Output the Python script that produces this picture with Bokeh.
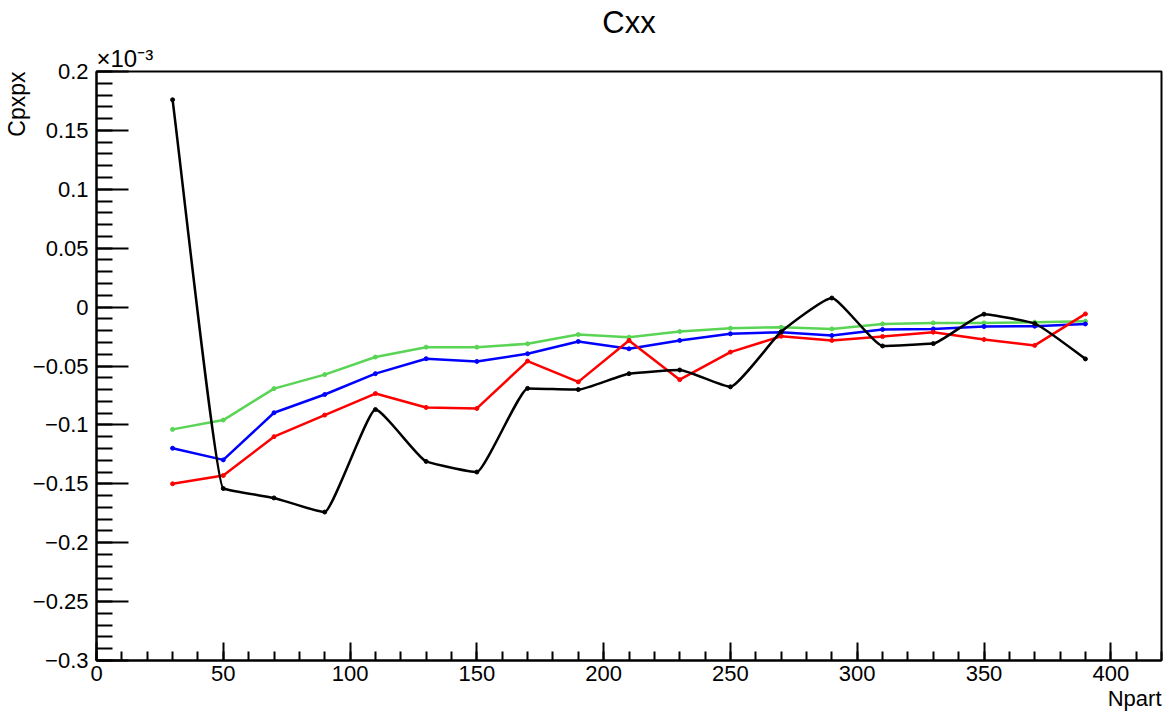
import numpy as np
from bokeh.plotting import figure
from bokeh.models import (Range1d, FixedTicker, CustomJSTickFormatter, Title, ColumnDataSource)
from bokeh.embed import file_html
from bokeh.resources import INLINE

# ---- data (values in units of 1e-3) ----
npart = [30, 50, 70, 90, 110, 130, 150, 170, 190, 210, 230, 250, 270, 290, 310, 330, 350, 370, 390]
black_vals = [0.176, -0.154, -0.162, -0.174, -0.087, -0.131, -0.140, -0.069, -0.070, -0.0565,
              -0.0534, -0.0677, -0.021, 0.0077, -0.033, -0.031, -0.006, -0.014, -0.044]
red_vals = [-0.150, -0.143, -0.110, -0.0917, -0.0734, -0.0852, -0.086, -0.0458, -0.0635, -0.0283,
            -0.0616, -0.0382, -0.0247, -0.0283, -0.0250, -0.0213, -0.0275, -0.0325, -0.0058]
blue_vals = [-0.1198, -0.1297, -0.0897, -0.0742, -0.0565, -0.0438, -0.0461, -0.0396, -0.0292, -0.0354,
             -0.0283, -0.0227, -0.0213, -0.0241, -0.0190, -0.0185, -0.0165, -0.0162, -0.0143]
green_vals = [-0.1038, -0.0959, -0.0692, -0.0573, -0.0424, -0.0340, -0.0340, -0.0312, -0.0233, -0.0255,
              -0.0207, -0.0179, -0.0171, -0.0185, -0.0143, -0.0134, -0.0134, -0.0128, -0.0120]

x_major = [0, 50, 100, 150, 200, 250, 300, 350, 400]
x_minor = list(range(0, 421, 10))
y_major = [-0.3, -0.25, -0.2, -0.15, -0.1, -0.05, 0.0, 0.05, 0.1, 0.15, 0.2]
y_minor = [round(-0.3 + 0.01 * i, 2) for i in range(51)]

FONT = "Liberation Sans"

p = figure(width=1167, height=717, output_backend="svg", toolbar_location=None,
           x_range=Range1d(0, 420), y_range=Range1d(-0.3, 0.2), title=None,
           min_border_left=96, min_border_right=6, min_border_top=67, min_border_bottom=57)
p.background_fill_color = "white"
p.border_fill_color = "white"
p.outline_line_color = "black"
p.outline_line_width = 2
p.xgrid.visible = False
p.ygrid.visible = False

fmt = CustomJSTickFormatter(code="""
const v = Math.round(tick*1000)/1000;
return v < 0 ? '\\u2212' + String(-v) : String(v);
""")

for ax, maj, mnr, tin, minin in ((p.xaxis[0], x_major, x_minor, 18, 9),
                                 (p.yaxis[0], y_major, y_minor, 32, 16)):
    ax.ticker = FixedTicker(ticks=maj, minor_ticks=mnr)
    ax.formatter = fmt
    ax.major_tick_in = tin
    ax.major_tick_out = 0
    ax.minor_tick_in = minin
    ax.minor_tick_out = 0
    ax.axis_line_width = 2
    ax.major_tick_line_width = 2
    ax.minor_tick_line_width = 2
    ax.major_label_text_font = FONT
    ax.major_label_text_font_size = "22px"
    ax.major_label_text_color = "black"
p.xaxis.major_label_standoff = 5
p.yaxis.major_label_standoff = 8


def smooth_bezier(xs, ys, k=0.45):
    """Monotone cubic (Fritsch-Carlson) segments with shortened handles."""
    xs = np.asarray(xs, float)
    ys = np.asarray(ys, float)
    h = np.diff(xs)
    d = np.diff(ys) / h
    m = np.zeros_like(ys)
    m[0] = d[0]
    m[-1] = d[-1]
    for i in range(1, len(xs) - 1):
        if d[i - 1] * d[i] <= 0:
            m[i] = 0.0
        else:
            w1 = 2 * h[i] + h[i - 1]
            w2 = h[i] + 2 * h[i - 1]
            m[i] = (w1 + w2) / (w1 / d[i - 1] + w2 / d[i])
    t = k * h / 3
    return dict(x0=xs[:-1], y0=ys[:-1], x1=xs[1:], y1=ys[1:],
                cx0=xs[:-1] + t, cy0=ys[:-1] + m[:-1] * t,
                cx1=xs[1:] - t, cy1=ys[1:] - m[1:] * t)


GREEN = "#59d454"
p.line(npart, green_vals, line_color=GREEN, line_width=2.5)
p.scatter(npart, green_vals, color=GREEN, size=4)
p.line(npart, blue_vals, line_color="#0000ff", line_width=2.5)
p.scatter(npart, blue_vals, color="#0000ff", size=4)
p.line(npart, red_vals, line_color="#ff0000", line_width=2.5)
p.scatter(npart, red_vals, color="#ff0000", size=4)
src = ColumnDataSource(smooth_bezier(npart, black_vals))
p.bezier(x0="x0", y0="y0", x1="x1", y1="y1", cx0="cx0", cy0="cy0", cx1="cx1", cy1="cy1",
         source=src, line_color="black", line_width=2.5)
p.scatter(npart, black_vals, color="black", size=4)


# texts in side panels
def mk_title(text, size, align, standoff=0, offset=0):
    return Title(text=text, align=align, text_font=FONT, text_font_size=size,
                 text_font_style="normal", text_color="black", standoff=standoff, offset=offset)


p.add_layout(mk_title("\u00d710\u207b\u00b3", "24px", "left"), "above")
p.add_layout(mk_title("Cxx", "31px", "center", standoff=5), "above")
p.add_layout(mk_title("Cpxpx", "23px", "right"), "left")
p.add_layout(mk_title("Npart", "22px", "right"), "below")

open("out.html", "w").write(file_html(p, INLINE))
